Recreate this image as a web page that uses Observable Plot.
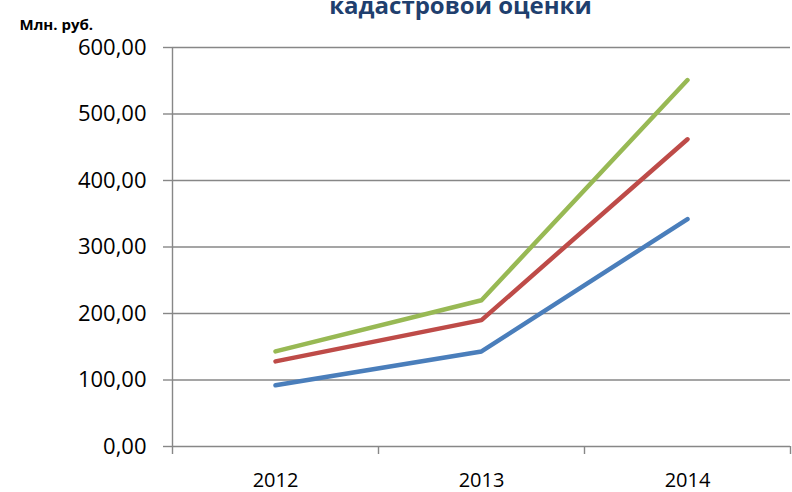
<!DOCTYPE html>
<html>
<head>
<meta charset="utf-8">
<script src="https://cdn.jsdelivr.net/npm/d3@7"></script>
<script src="https://cdn.jsdelivr.net/npm/@observablehq/plot@0.6"></script>
<style>
  html, body { margin: 0; padding: 0; background: #fff; }
  #chart svg { display: block; font-family: "Open Sans", sans-serif; }
</style>
</head>
<body>
<div id="chart"></div>
<script>
const years = [2012, 2013, 2014];
const seriesNames = ["Ряд 1", "Ряд 2", "Ряд 3"];
const series1 = [92, 143, 342];
const series2 = [128, 190, 462];
const series3 = [143, 220, 551];
const yTicks = [0, 100, 200, 300, 400, 500, 600];
const titleText = "кадастровой оценки";
const unitText = "Млн. руб.";
const colors = ["#4A7EBB", "#BE4B48", "#98B954"];

const allSeries = [series1, series2, series3];
const data = [];
allSeries.forEach((vals, i) => vals.forEach((v, j) => data.push({series: seriesNames[i], year: years[j], value: v})));
const bounds = [years[0] - 0.5, ...years.map(y => y + 0.5)];
const fmt = d => d.toFixed(2).replace(".", ",");
const grey = "#878787";

const chart = Plot.plot({
  width: 792,
  height: 492,
  marginLeft: 172,
  marginRight: 2,
  marginTop: 47,
  marginBottom: 46,
  x: {domain: [bounds[0], bounds[bounds.length - 1]], label: null},
  y: {domain: [0, 600], label: null},
  color: {domain: seriesNames, range: colors},
  marks: [
    Plot.gridY(yTicks, {stroke: grey, strokeOpacity: 1, strokeWidth: 1.4}),
    Plot.ruleX([bounds[0]], {stroke: grey, strokeWidth: 1.4}),
    Plot.axisY(yTicks, {tickSize: 9, tickFormat: () => "", label: null, stroke: grey, strokeWidth: 1.4}),
    Plot.axisY(yTicks, {tickSize: 0, tickPadding: 26, tickFormat: fmt, label: null, fontSize: 22, fill: "#000"}),
    Plot.axisX(bounds, {tickSize: 8, tickFormat: () => "", label: null, stroke: grey, strokeWidth: 1.4}),
    Plot.axisX(years, {tickSize: 0, tickPadding: 26, tickFormat: d => String(d), label: null, fontSize: 20, fill: "#000"}),
    Plot.line(data, {x: "year", y: "value", z: "series", stroke: "series", strokeWidth: 4.5, strokeLinecap: "round", strokeLinejoin: "round"}),
    Plot.text([unitText], {frameAnchor: "top-left", textAnchor: "start", lineAnchor: "bottom", dx: -153, dy: -18, fontSize: 15, fontWeight: "bold", fill: "#000"}),
    Plot.text([titleText], {frameAnchor: "top", lineAnchor: "bottom", dx: -21, dy: -34, fontSize: 24, fontWeight: "bold", fill: "#1F3F6E"})
  ]
});
document.getElementById("chart").appendChild(chart);
</script>
</body>
</html>
